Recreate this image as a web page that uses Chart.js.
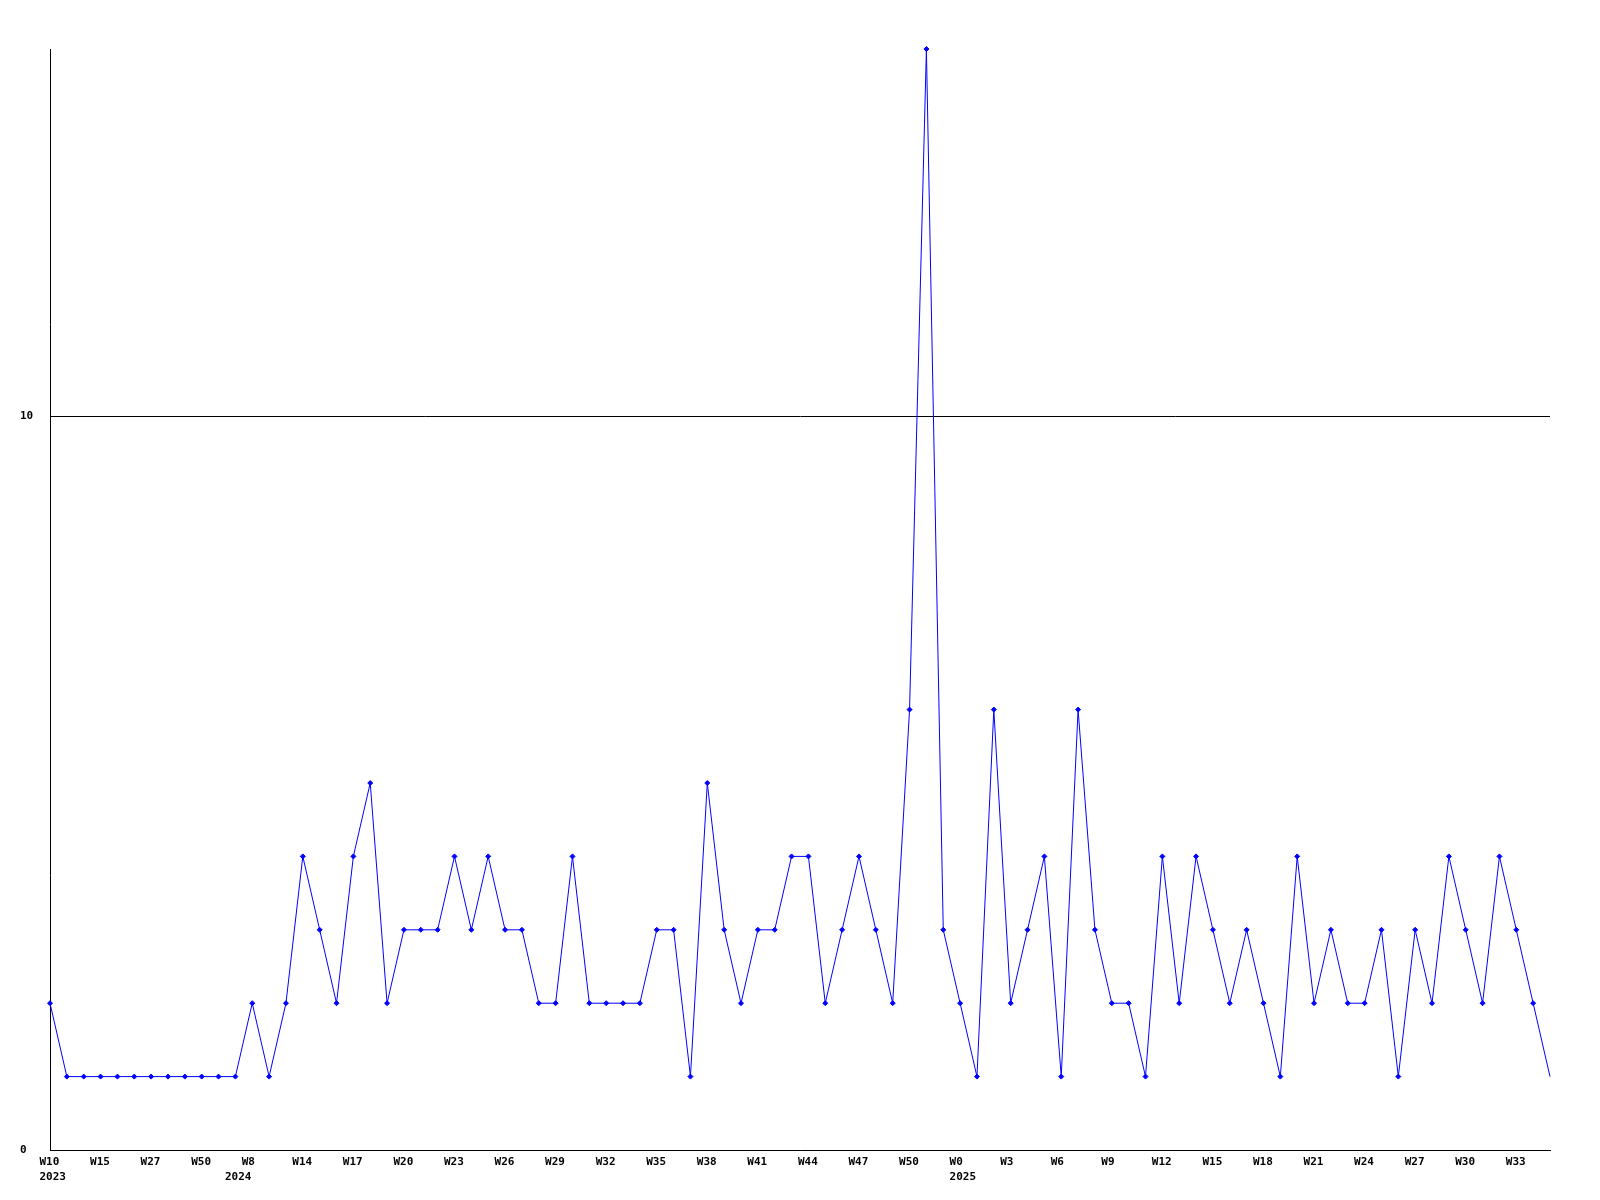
<!DOCTYPE html>
<html>
<head>
<meta charset="utf-8">
<script src="https://cdn.jsdelivr.net/npm/chart.js@4/dist/chart.umd.min.js"></script>
<style>
html,body{margin:0;padding:0;background:#fff;}
#wrap{width:1600px;height:1200px;}
</style>
</head>
<body>
<div id="wrap"><canvas id="c" width="1600" height="1200"></canvas></div>
<script>
const categories = [
 '2023-W10','2023-W11','2023-W13','2023-W15','2023-W18','2023-W22','2023-W27','2023-W33','2023-W41','2023-W50',
 '2023-W51','2024-W2','2024-W8','2024-W10','2024-W12','2024-W14','2024-W15','2024-W16','2024-W17','2024-W18',
 '2024-W19','2024-W20','2024-W21','2024-W22','2024-W23','2024-W24','2024-W25','2024-W26','2024-W27','2024-W28',
 '2024-W29','2024-W30','2024-W31','2024-W32','2024-W33','2024-W34','2024-W35','2024-W36','2024-W37','2024-W38',
 '2024-W39','2024-W40','2024-W41','2024-W42','2024-W43','2024-W44','2024-W45','2024-W46','2024-W47','2024-W48',
 '2024-W49','2024-W50','2024-W51','2024-W52','2025-W0','2025-W1','2025-W2','2025-W3','2025-W4','2025-W5',
 '2025-W6','2025-W7','2025-W8','2025-W9','2025-W10','2025-W11','2025-W12','2025-W13','2025-W14','2025-W15',
 '2025-W16','2025-W17','2025-W18','2025-W19','2025-W20','2025-W21','2025-W22','2025-W23','2025-W24','2025-W25',
 '2025-W26','2025-W27','2025-W28','2025-W29','2025-W30','2025-W31','2025-W32','2025-W33','2025-W34','2025-W35'
];
const values = [
 2,1,1,1,1,1,1,1,1,1,
 1,1,2,1,2,4,3,2,4,5,
 2,3,3,3,4,3,4,3,3,2,
 2,4,2,2,2,2,3,3,1,5,
 3,2,3,3,4,4,2,3,4,3,
 2,6,15,3,2,1,6,2,3,4,
 1,6,3,2,2,1,4,2,4,3,
 2,3,2,1,4,2,3,2,2,3,
 1,3,2,4,3,2,4,3,2,1
];
const yTickValues = [0, 10];
const yMin = 0, yMax = 15;
const labelEvery = 3;

const font = {family: '"DejaVu Sans Mono", monospace', size: 11, weight: 'bold', lineHeight: 1.32};

new Chart(document.getElementById('c'), {
  type: 'line',
  data: {
    labels: categories,
    datasets: [{
      data: values,
      borderColor: '#0000ff',
      backgroundColor: '#0000ff',
      borderWidth: 1,
      tension: 0,
      fill: false,
      clip: false,
      pointStyle: 'rectRot',
      pointRadius: (ctx) => ctx.dataIndex === values.length - 1 ? 0 : 2.5,
      pointBorderWidth: 1,
      pointHoverRadius: 2.5
    }]
  },
  options: {
    responsive: false,
    animation: false,
    events: [],
    layout: {padding: {top: 49, right: 50, bottom: 0, left: 20}},
    plugins: {legend: {display: false}, title: {display: false}, tooltip: {enabled: false}},
    scales: {
      x: {
        type: 'category',
        offset: false,
        grid: {display: false, drawTicks: false},
        border: {display: true, color: '#000', width: 1},
        afterFit: (s) => { s.height = 50; },
        ticks: {
          autoSkip: false,
          maxRotation: 0,
          minRotation: 0,
          align: 'start',
          labelOffset: -10.5,
          padding: 5,
          color: '#000',
          font: font,
          callback: function(v, i) {
            const [yr, wk] = categories[i].split('-');
            const showWeek = i % labelEvery === 0;
            const showYear = i === 0 || categories[i - 1].split('-')[0] !== yr;
            if (showWeek && showYear) return [wk, yr];
            if (showYear) return ['', yr];
            if (showWeek) return wk;
            return '';
          }
        }
      },
      y: {
        min: yMin,
        max: yMax,
        grid: {display: true, color: '#000', lineWidth: 1, drawTicks: false},
        border: {display: true, color: '#000', width: 1},
        afterFit: (s) => { s.width = 30; },
        afterBuildTicks: (s) => { s.ticks = yTickValues.map(v => ({value: v})); },
        ticks: {
          crossAlign: 'far',
          padding: 0,
          color: '#000',
          font: font,
          callback: (v) => String(v)
        }
      }
    }
  }
});
</script>
</body>
</html>
